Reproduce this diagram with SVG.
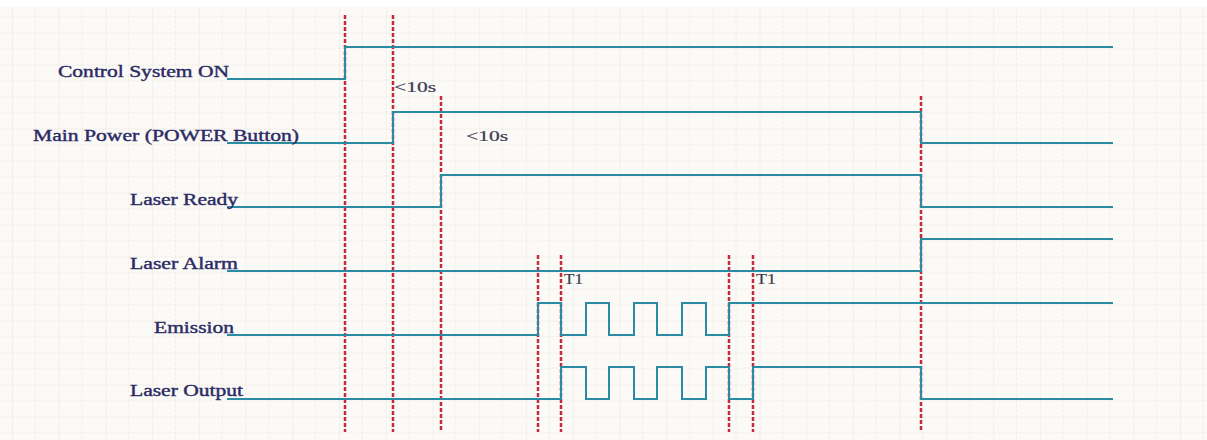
<svg xmlns="http://www.w3.org/2000/svg" width="1207" height="440" viewBox="0 0 1207 440">
<style>
.sig{fill:none;stroke:#2b8ba3;stroke-width:2;stroke-linejoin:miter}
.mark{fill:none;stroke:#c42a3a;stroke-width:2.5;stroke-dasharray:4 2}
.lbl{font-family:"Liberation Serif","Times New Roman",serif;font-size:16px;fill:#2b2b66;stroke:#2b2b66;stroke-width:0.4}
.note{font-family:"Liberation Serif","Times New Roman",serif;font-size:15px;fill:#3a3a55;stroke:#3a3a55;stroke-width:0.2}
</style>
<defs>
<pattern id="grid" patternUnits="userSpaceOnUse" x="12" y="0.5" width="46.72" height="32">
<rect width="46.72" height="32" fill="#fcfaf6"/>
<line x1="0" y1="16" x2="46.72" y2="16" stroke="#f0ede7" stroke-width="1" stroke-dasharray="3 2"/>
<line x1="23.36" y1="0" x2="23.36" y2="32" stroke="#f0ede7" stroke-width="1" stroke-dasharray="3 2"/>
<line x1="0" y1="0" x2="46.72" y2="0" stroke="#ebe7e0" stroke-width="1"/>
<line x1="0" y1="0" x2="0" y2="32" stroke="#ebe7e0" stroke-width="1"/>
</pattern>
</defs>
<rect width="1207" height="440" fill="#ffffff"/>
<rect x="0" y="7" width="1207" height="433" fill="url(#grid)"/>

<g id="connectors">
<g id="markers">
<line class="mark" x1="345" y1="15" x2="345" y2="432"/>
<line class="mark" x1="393" y1="15" x2="393" y2="432"/>
<line class="mark" x1="441" y1="96" x2="441" y2="432"/>
<line class="mark" x1="538" y1="255" x2="538" y2="432"/>
<line class="mark" x1="561" y1="255" x2="561" y2="432"/>
<line class="mark" x1="729" y1="255" x2="729" y2="432"/>
<line class="mark" x1="753" y1="255" x2="753" y2="432"/>
<line class="mark" x1="921" y1="96" x2="921" y2="432"/>
</g>
<path class="sig" d="M227 79H345V47H1113"/>
<path class="sig" d="M227 143H393V112H921V143H1113"/>
<path class="sig" d="M227 207H441V175H921V207H1113"/>
<path class="sig" d="M227 271H921V239H1113"/>
<path class="sig" d="M227 335H538V303H561V335H586V303H609V335H634V303H657V335H682V303H706V335H729V303H1113"/>
<path class="sig" d="M227 399H561V367H586V399H609V367H634V399H657V367H682V399H706V367H729V399H753V367H921V399H1113"/>
</g>

<g id="control-system-on"><text class="lbl" x="58" y="77" textLength="171" lengthAdjust="spacingAndGlyphs">Control System ON</text></g>
<g id="main-power"><text class="lbl" x="33" y="141" textLength="266" lengthAdjust="spacingAndGlyphs">Main Power (POWER Button)</text></g>
<g id="laser-ready"><text class="lbl" x="130" y="205" textLength="108" lengthAdjust="spacingAndGlyphs">Laser Ready</text></g>
<g id="laser-alarm"><text class="lbl" x="130" y="269" textLength="108" lengthAdjust="spacingAndGlyphs">Laser Alarm</text></g>
<g id="emission"><text class="lbl" x="154" y="333" textLength="80" lengthAdjust="spacingAndGlyphs">Emission</text></g>
<g id="laser-output"><text class="lbl" x="130" y="396" textLength="113" lengthAdjust="spacingAndGlyphs">Laser Output</text></g>

<g id="notes">
<text class="note" x="394" y="92" textLength="42" lengthAdjust="spacingAndGlyphs">&lt;10s</text>
<text class="note" x="466" y="141" textLength="42" lengthAdjust="spacingAndGlyphs">&lt;10s</text>
<text class="note" x="564" y="284" textLength="19" lengthAdjust="spacingAndGlyphs">T1</text>
<text class="note" x="756" y="284" textLength="20" lengthAdjust="spacingAndGlyphs">T1</text>
</g>
</svg>
